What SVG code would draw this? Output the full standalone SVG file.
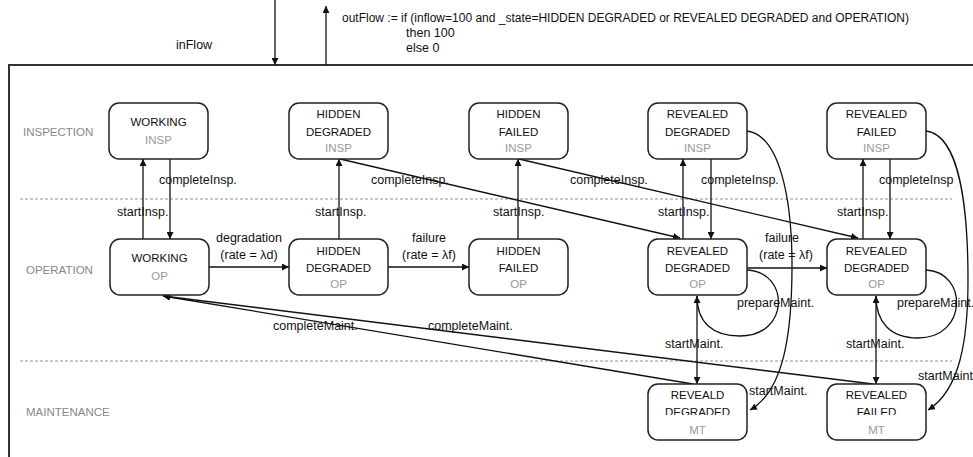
<svg xmlns="http://www.w3.org/2000/svg" width="973" height="457" viewBox="0 0 973 457">
<style>
text{font-family:"Liberation Sans",Arial,sans-serif;fill:#111}
.n{font-size:11.5px;text-anchor:middle}
.g{fill:#999}
.lane{font-size:11.5px;fill:#888}
.lbl{font-size:12.5px}
.mid{text-anchor:middle}
.box{fill:#fff;stroke:#222;stroke-width:1.5}
.e{fill:none;stroke:#111;stroke-width:1.3;marker-end:url(#ah)}
.dash{stroke:#888;stroke-width:0.9;stroke-dasharray:3 2}
</style>
<defs>
<marker id="ah" viewBox="0 0 10 10" refX="10" refY="5" markerWidth="7" markerHeight="7" markerUnits="userSpaceOnUse" orient="auto">
<path d="M0,0 L10,5 L0,10 z" fill="#111"/>
</marker>
<clipPath id="c1"><rect x="0" y="0" width="973" height="415"/></clipPath>
<clipPath id="c2"><rect x="0" y="0" width="973" height="280"/></clipPath>
<clipPath id="c3"><rect x="0" y="0" width="973" height="417"/></clipPath>
</defs>
<rect width="973" height="457" fill="#fff"/>
<g id="frame">
<path d="M9,457 L9,65 L973,65" fill="none" stroke="#333" stroke-width="2"/>
<line class="dash" x1="20" y1="199" x2="952" y2="199"/>
<line class="dash" x1="20" y1="361" x2="952" y2="361"/>
<text class="lane" x="23" y="136">INSPECTION</text>
<text class="lane" x="26" y="274">OPERATION</text>
<text class="lane" x="26" y="416" clip-path="url(#c3)">MAINTENANCE</text>
</g>
<g id="io">
<line class="e" x1="275" y1="0" x2="275" y2="65"/>
<line class="e" x1="326" y1="65" x2="326" y2="6"/>
<text class="lbl" x="176" y="49">inFlow</text>
<text style="font-size:12px" x="342" y="22">outFlow := if (inflow=100 and _state=HIDDEN DEGRADED or REVEALED DEGRADED  and OPERATION)</text>
<text class="lbl" x="406" y="37">then 100</text>
<text class="lbl" x="406" y="52">else 0</text>
</g>
<g id="connectors">
<path class="e" d="M143,239 L143,159"/>
<path class="e" d="M170,159 L170,239"/>
<path class="e" d="M339,239 L339,159"/>
<path class="e" d="M340,159 L680,238"/>
<path class="e" d="M518,239 L518,159"/>
<path class="e" d="M519,159 L858,238"/>
<path class="e" d="M683,239 L683,159"/>
<path class="e" d="M711,159 L711,239"/>
<path class="e" d="M863,239 L863,159"/>
<path class="e" d="M890,159 L890,239"/>
<path class="e" d="M209,267 L289,267"/>
<path class="e" d="M388,267 L469,267"/>
<path class="e" d="M747,268 L827,268"/>
<path class="e" d="M697,296 L697,384"/>
<path class="e" d="M876,296 L876,384"/>
<path class="e" d="M747,131 C780,135 792,200 792,265 C792,330 785,390 750,410"/>
<path class="e" d="M926,131 C960,135 968,210 968,280 C968,340 960,390 928,410"/>
<path class="e" d="M747,270 C790,272 790,336 740,336 C712,336 697,322 697,296"/>
<path class="e" d="M926,270 C968,272 968,338 918,338 C890,338 876,322 876,296"/>
<path class="e" d="M693,384 L163,296"/>
<path class="e" d="M873,384 L163,296"/>
<text class="lbl" x="159" y="184">completeInsp.</text>
<text class="lbl" x="117" y="216">startInsp.</text>
<text class="lbl" x="371" y="184">completeInsp.</text>
<text class="lbl" x="315" y="216">startInsp.</text>
<text class="lbl" x="570" y="184">completeInsp.</text>
<text class="lbl" x="493" y="216">startInsp.</text>
<text class="lbl" x="701" y="184">completeInsp.</text>
<text class="lbl" x="658" y="216">startInsp.</text>
<text class="lbl" x="879" y="184">completeInsp</text>
<text class="lbl" x="837" y="216">startInsp.</text>
<text class="lbl mid" x="249" y="242">degradation</text>
<text class="lbl mid" x="249" y="259">(rate = λd)</text>
<text class="lbl mid" x="429" y="242">failure</text>
<text class="lbl mid" x="429" y="259">(rate = λf)</text>
<text class="lbl mid" x="782" y="242">failure</text>
<text class="lbl mid" x="786" y="259">(rate = λf)</text>
<text class="lbl" x="737" y="307">prepareMaint.</text>
<text class="lbl" x="897" y="307">prepareMaint.</text>
<text class="lbl" x="665" y="348">startMaint.</text>
<text class="lbl" x="846" y="348">startMaint.</text>
<text class="lbl" x="749" y="395">startMaint.</text>
<text class="lbl" x="918" y="380">startMaint.</text>
<text class="lbl" x="273" y="330">completeMaint.</text>
<text class="lbl" x="428" y="330">completeMaint.</text>
</g>
<g id="working_insp">
<rect class="box" x="109" y="103" width="99" height="56" rx="10"/>
<text class="n" x="158.5" y="126">WORKING</text>
<text class="n g" x="158.5" y="144">INSP</text>
</g>
<g id="hidden_degraded_insp">
<rect class="box" x="289" y="103" width="99" height="56" rx="10"/>
<text class="n" x="338.5" y="118">HIDDEN</text>
<text class="n" x="338.5" y="135.5">DEGRADED</text>
<text class="n g" x="338.5" y="152">INSP</text>
</g>
<g id="hidden_failed_insp">
<rect class="box" x="469" y="103" width="99" height="56" rx="10"/>
<text class="n" x="518.5" y="118">HIDDEN</text>
<text class="n" x="518.5" y="135.5">FAILED</text>
<text class="n g" x="518.5" y="152">INSP</text>
</g>
<g id="revealed_degraded_insp">
<rect class="box" x="648" y="103" width="99" height="56" rx="10"/>
<text class="n" x="697.5" y="118">REVEALED</text>
<text class="n" x="697.5" y="135.5">DEGRADED</text>
<text class="n g" x="697.5" y="152">INSP</text>
</g>
<g id="revealed_failed_insp">
<rect class="box" x="827" y="103" width="99" height="56" rx="10"/>
<text class="n" x="876.5" y="118">REVEALED</text>
<text class="n" x="876.5" y="135.5">FAILED</text>
<text class="n g" x="876.5" y="152">INSP</text>
</g>
<g id="working_op">
<rect class="box" x="110" y="239" width="99" height="56" rx="10"/>
<text class="n" x="159.5" y="262">WORKING</text>
<text class="n g" x="159.5" y="280" clip-path="url(#c2)">OP</text>
</g>
<g id="hidden_degraded_op">
<rect class="box" x="289" y="239" width="99" height="56" rx="10"/>
<text class="n" x="338.5" y="255">HIDDEN</text>
<text class="n" x="338.5" y="272">DEGRADED</text>
<text class="n g" x="338.5" y="288">OP</text>
</g>
<g id="hidden_failed_op">
<rect class="box" x="469" y="239" width="99" height="56" rx="10"/>
<text class="n" x="518.5" y="255">HIDDEN</text>
<text class="n" x="518.5" y="272">FAILED</text>
<text class="n g" x="518.5" y="288">OP</text>
</g>
<g id="revealed_degraded_op">
<rect class="box" x="648" y="239" width="99" height="56" rx="10"/>
<text class="n" x="697.5" y="255">REVEALED</text>
<text class="n" x="697.5" y="272">DEGRADED</text>
<text class="n g" x="697.5" y="288">OP</text>
</g>
<g id="revealed_failed_op">
<rect class="box" x="827" y="239" width="99" height="56" rx="10"/>
<text class="n" x="876.5" y="255">REVEALED</text>
<text class="n" x="876.5" y="272">DEGRADED</text>
<text class="n g" x="876.5" y="288">OP</text>
</g>
<g id="revealed_degraded_mt">
<rect class="box" x="648" y="384" width="99" height="56" rx="10"/>
<text class="n" x="697.5" y="399">REVEALD</text>
<text class="n" x="697.5" y="416" clip-path="url(#c1)">DEGRADED</text>
<text class="n g" x="697.5" y="434">MT</text>
</g>
<g id="revealed_failed_mt">
<rect class="box" x="827" y="384" width="99" height="56" rx="10"/>
<text class="n" x="876.5" y="399">REVEALED</text>
<text class="n" x="876.5" y="416" clip-path="url(#c1)">FAILED</text>
<text class="n g" x="876.5" y="434">MT</text>
</g>
</svg>
